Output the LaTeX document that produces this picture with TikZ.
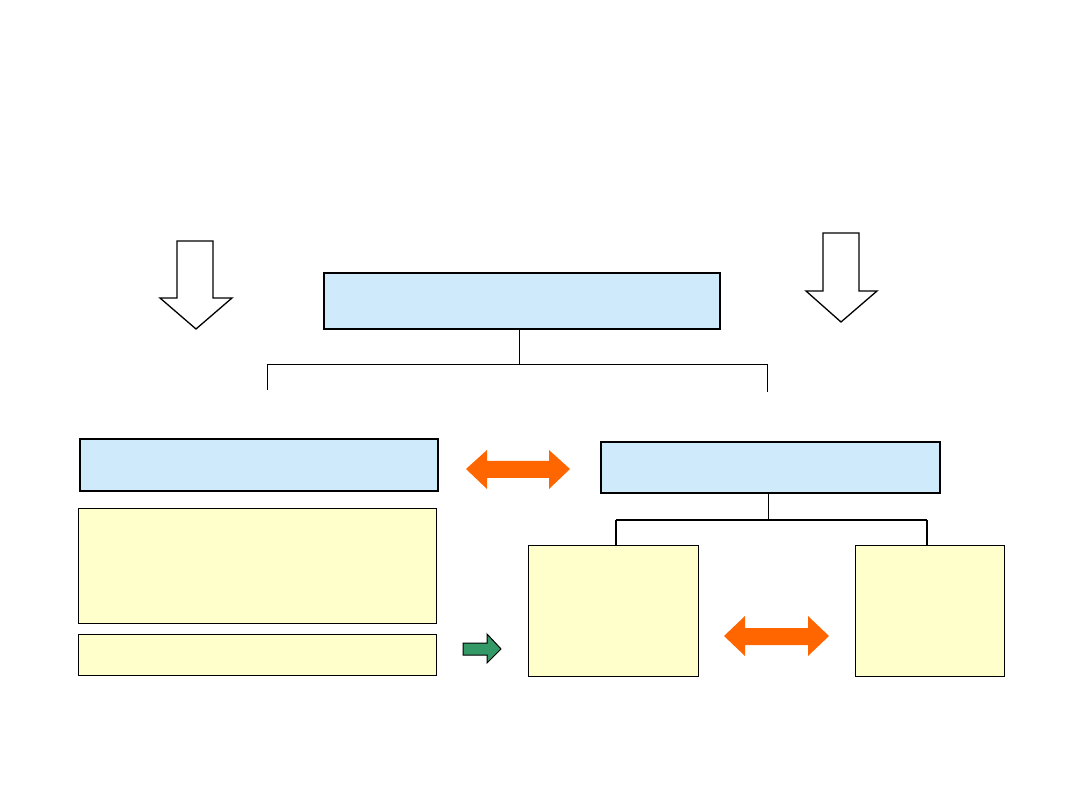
\documentclass[tikz,border=0pt]{standalone}
\begin{document}
\begin{tikzpicture}[x=1pt,y=-1pt,
  bluebox/.style={draw=black,line width=1.8pt,fill={rgb,255:red,207;green,235;blue,251},anchor=north west,inner sep=0pt},
  yelbox/.style={draw=black,line width=1.1pt,fill={rgb,255:red,255;green,255;blue,204},anchor=north west,inner sep=0pt},
  conn/.style={draw=black,line width=1pt},
  hollowarrow/.style={draw=black,line width=1.3pt,fill=white,line join=miter},
  orangearrow/.style={fill={rgb,255:red,255;green,102;blue,0},draw=none},
  greenarrow/.style={draw=black,line width=1pt,fill={rgb,255:red,51;green,153;blue,102}}]
\useasboundingbox[fill=white] (0,0) rectangle (1080,810);
% boxes
\node[bluebox,minimum width=396pt,minimum height=56pt] (top) at (323,272) {};
\node[bluebox,minimum width=358pt,minimum height=52pt] (lb) at (79,438) {};
\node[bluebox,minimum width=339pt,minimum height=51pt] (rb) at (600,441) {};
\node[yelbox,minimum width=358pt,minimum height=115pt] (ly1) at (78,508) {};
\node[yelbox,minimum width=358pt,minimum height=41pt] (ly2) at (78,634) {};
\node[yelbox,minimum width=170pt,minimum height=131pt] (my) at (528,545) {};
\node[yelbox,minimum width=149pt,minimum height=131pt] (ry) at (855,545) {};
% tree under top box
\coordinate (tj) at (519,365);
\coordinate (tl) at (267,365);
\coordinate (tr) at (767,365);
\coordinate (tle) at (267,390);
\coordinate (tre) at (767,392);
\draw[conn] (top.south -| tj) -- (tj);
\draw[conn] (tle) -- (tl) -- (tr) -- (tre);
% tree under right blue box
\coordinate (rj) at (768,520);
\coordinate (rl) at (616,520);
\coordinate (rr) at (927,520);
\draw[conn] (rb.south -| rj) -- (rj);
\draw[conn,line width=1.6pt] (rl) -- (rr);
\draw[conn,line width=1.6pt] (rl) -- (rl |- my.north);
\draw[conn,line width=1.6pt] (rr) -- (rr |- ry.north);
% hollow down arrows
\draw[hollowarrow] (177,241) -- (213,241) -- (213,298) -- (232,298) -- (196,329) -- (160,298) -- (177,298) -- cycle;
\draw[hollowarrow] (823,233) -- (859,233) -- (859,291) -- (877,291) -- (841,322) -- (806,291) -- (823,291) -- cycle;
% orange double arrows
\fill[orangearrow] (466,469) -- (487,450) -- (487,461) -- (549,461) -- (549,450) -- (570,469) -- (549,489) -- (549,478) -- (487,478) -- (487,489) -- cycle;
\fill[orangearrow] (724,636) -- (745,616) -- (745,628) -- (808,628) -- (808,616) -- (829,636) -- (808,656) -- (808,645) -- (745,645) -- (745,656) -- cycle;
% green arrow
\draw[greenarrow] (463,643) -- (487,643) -- (487,634) -- (501,649) -- (487,663) -- (487,655) -- (463,655) -- cycle;
\end{tikzpicture}
\end{document}
